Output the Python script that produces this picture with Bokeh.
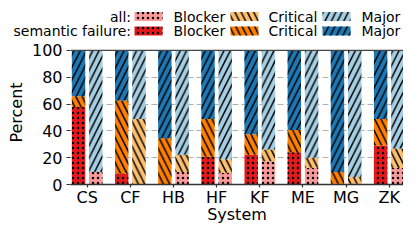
from bokeh.plotting import figure
from bokeh.layouts import column
from bokeh.models import Range1d, FixedTicker, Span, ColumnDataSource
from bokeh.core.properties import value
from bokeh.embed import file_html
from bokeh.resources import INLINE

# ---------------- data ----------------
systems = ["CS", "CF", "HB", "HF", "KF", "ME", "MG", "ZK"]
sem_blocker = [57.7, 8.2, 0.0, 20.7, 22.1, 24.1, 0.5, 29.1]
sem_critical = [8.0, 54.5, 34.4, 28.1, 15.3, 16.5, 8.8, 19.7]
sem_major = [34.3, 37.3, 65.6, 51.2, 62.6, 59.4, 90.7, 51.2]
all_blocker = [9.3, 0.0, 9.3, 8.8, 17.3, 12.5, 0.5, 12.5]
all_critical = [0.0, 48.8, 12.8, 10.0, 8.7, 7.5, 5.1, 14.4]
all_major = [90.7, 51.2, 77.9, 81.2, 74.0, 80.0, 94.4, 73.1]
y_ticks = [0, 20, 40, 60, 80, 100]
legend_rows = ["all:", "semantic failure:"]
severity = ["Blocker", "Critical", "Major"]

# ---------------- colors / styles ----------------
c_sem = ["#e31a1c", "#ff7f00", "#1f78b4"]
c_all = ["#fb9a99", "#fdbf6f", "#a6cee3"]
hatches = ["dot", "left_diagonal_line", "right_diagonal_line"]
h_scale = [5, 12.5, 12.5]
h_weight = [2.0, 1.5, 1.5]

W = 403
HL = 40           # legend strip height
HC = 226 - HL     # chart height
BL, BB = 70, 40

def no_align(fig):
    try:
        fig.frame_align = False
    except Exception:
        pass

# ---------------- legend strip (pixel coordinates) ----------------
leg = figure(frame_width=W, frame_height=HL, output_backend="svg", toolbar_location=None,
             x_range=Range1d(0, W), y_range=Range1d(HL, 0),
             x_axis_type=None, y_axis_type=None,
             min_border=0, min_border_left=0, min_border_right=0,
             min_border_top=0, min_border_bottom=0)
no_align(leg)
leg.outline_line_color = None
leg.xgrid.grid_line_color = None
leg.ygrid.grid_line_color = None

dx = -15
row_cy = [16.0, 30.5]
patch_l = [149 + dx, 245 + dx, 337 + dx]
patch_w, patch_h = 28, 9
text_lx = [188 + dx, 283 + dx, 376 + dx]
row_colors = [c_all, c_sem]
for r in range(2):
    cy = row_cy[r]
    for k in range(3):
        leg.quad(left=[patch_l[k]], right=[patch_l[k] + patch_w],
                 top=[cy - patch_h / 2], bottom=[cy + patch_h / 2],
                 fill_color=row_colors[r][k], line_color=None,
                 hatch_pattern=hatches[k], hatch_color="black",
                 hatch_scale=h_scale[k], hatch_weight=h_weight[k])
    leg.text(x=[145.5 + dx], y=[cy], text=[legend_rows[r]],
             text_align="right", text_baseline="middle",
             text_font=value("DejaVu Sans"), text_font_size=value("14px"),
             text_color="black")
    leg.text(x=text_lx, y=[cy] * 3, text=severity,
             text_align="left", text_baseline="middle",
             text_font=value("DejaVu Sans"), text_font_size=value("14px"),
             text_color="black")

# ---------------- chart ----------------
FH = HC - BB
top_px = 10.0                      # y=100 sits this far below the frame top
ppy = (FH - top_px) / 100.0
y1 = FH / ppy
x0, x1 = -0.386, 7.33

p = figure(width=W, height=HC, output_backend="svg", toolbar_location=None,
           x_range=Range1d(x0, x1), y_range=Range1d(0, y1),
           min_border_left=BL, min_border_right=0, min_border_top=0,
           min_border_bottom=BB)
no_align(p)
p.outline_line_color = None

idx = list(range(len(systems)))
src = ColumnDataSource(dict(
    xs=[i - 0.2 for i in idx], xa=[i + 0.2 for i in idx],
    sb=sem_blocker, sc=sem_critical, sm=sem_major,
    ab=all_blocker, ac=all_critical, am=all_major))

p.vbar_stack(["sb", "sc", "sm"], x="xs", width=0.31, source=src,
             fill_color=c_sem, line_color=None,
             hatch_pattern=hatches, hatch_color="black",
             hatch_scale=h_scale, hatch_weight=h_weight)
p.vbar_stack(["ab", "ac", "am"], x="xa", width=0.31, source=src,
             fill_color=c_all, line_color=None,
             hatch_pattern=hatches, hatch_color="black",
             hatch_scale=h_scale, hatch_weight=h_weight)

p.add_layout(Span(location=100, dimension="width", line_color="#444444", line_width=1.3))

p.xaxis.ticker = FixedTicker(ticks=idx)
p.xaxis.major_label_overrides = {i: s for i, s in zip(idx, systems)}
p.yaxis.ticker = FixedTicker(ticks=y_ticks)
p.yaxis.bounds = (0, 100)
p.xaxis.axis_label = "System"
p.yaxis.axis_label = "Percent"
for ax in (p.xaxis, p.yaxis):
    ax.major_label_text_font = "DejaVu Sans"
    ax.major_label_text_font_size = "16px"
    ax.major_label_text_color = "black"
    ax.major_label_text_line_height = 1.0
    ax.axis_label_text_font = "DejaVu Sans"
    ax.axis_label_text_font_size = "16px"
    ax.axis_label_text_font_style = "normal"
    ax.axis_label_text_color = "black"
    ax.axis_label_text_line_height = 1.0
    ax.major_tick_out = 4
    ax.major_tick_in = 0
    ax.minor_tick_line_color = None
    ax.major_tick_line_color = "#333333"
    ax.major_tick_line_width = 1.2
p.xaxis.major_tick_out = 3
p.xaxis.axis_line_color = "#333333"
p.xaxis.axis_line_width = 1.3
p.yaxis.axis_line_color = None
p.yaxis.major_label_standoff = 4
p.xaxis.major_label_standoff = 0
p.yaxis.axis_label_standoff = 3
p.xaxis.axis_label_standoff = -5

p.xgrid.grid_line_color = None
p.ygrid.grid_line_color = "#b0b0b0"
p.ygrid.grid_line_dash = "6 3"
p.ygrid.grid_line_width = 1.1

layout = column(leg, p, spacing=0)
open("out.html", "w").write(file_html(layout, INLINE))
